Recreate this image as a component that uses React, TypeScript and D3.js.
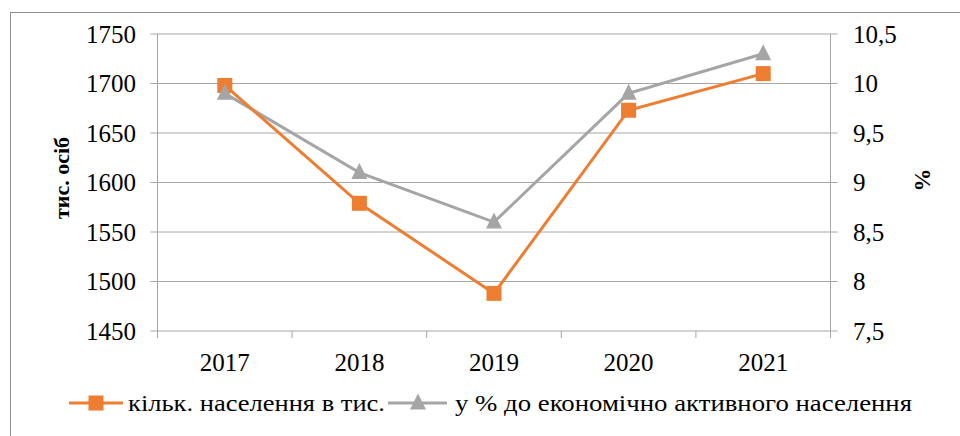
import * as d3 from "d3";

const years = ["2017", "2018", "2019", "2020", "2021"];
const populationThousands = [1698, 1579, 1488, 1673, 1710];
const percentOfActive = [9.9, 9.1, 8.6, 9.9, 10.3];
const leftTicks = [1450, 1500, 1550, 1600, 1650, 1700, 1750];
const rightTicks = [7.5, 8, 8.5, 9, 9.5, 10, 10.5];

const width = 960;
const height = 436;
const plotLeft = 157.5;
const plotRight = 830.5;
const plotTop = 34;
const plotBottom = 331;

const orange = "#ED7D31";
const gray = "#A5A5A5";
const gridColor = "#A6A6A6";
const font = "'Liberation Serif', 'Times New Roman', serif";

const App = () => {
  // horizontal scale: one band per year, points sit in the middle
  const xScale = d3.scaleBand().domain(years).range([plotLeft, plotRight]).padding(0);
  const cx = (y: string) => (xScale(y) as number) + xScale.bandwidth() / 2;

  const yLeft = d3.scaleLinear().domain([1450, 1750]).range([plotBottom, plotTop]);
  const yRight = d3.scaleLinear().domain([7.5, 10.5]).range([plotBottom, plotTop]);

  const popLine = d3
    .line<number>()
    .x((_, i) => cx(years[i]))
    .y((d) => yLeft(d));
  const pctLine = d3
    .line<number>()
    .x((_, i) => cx(years[i]))
    .y((d) => yRight(d));

  const fmtRight = (v: number) => String(v).replace(".", ",");
  const tri = (x: number, y: number, s: number) =>
    `M${x},${y - s * 0.6}L${x + s / 2},${y + s * 0.4}L${x - s / 2},${y + s * 0.4}Z`;

  const boundaries = [...years.map((y) => xScale(y) as number), plotRight];
  const txt = { fontFamily: font };

  return (
    <svg
      width={width}
      height={height}
      style={{ position: "fixed", left: 0, top: 0, background: "#fff", fontFamily: font }}
    >
      {/* outer frame */}
      <rect x={10.5} y={12.5} width={980} height={460} fill="none" stroke="#8C8C8C" strokeWidth={1} />

      {/* grid lines + left ticks */}
      {leftTicks.map((t) => (
        <g key={t}>
          <line x1={plotLeft - 7} x2={plotRight + 7} y1={yLeft(t)} y2={yLeft(t)} stroke={gridColor} strokeWidth={1} />
          <text x={136} y={yLeft(t)} dy="0.34em" textAnchor="end" fontSize={25} fill="#000" style={txt}>
            {t}
          </text>
        </g>
      ))}
      {rightTicks.map((t) => (
        <text key={t} x={853} y={yRight(t)} dy="0.34em" fontSize={25} fill="#000" style={txt}>
          {fmtRight(t)}
        </text>
      ))}

      {/* axes */}
      <line x1={plotLeft} x2={plotLeft} y1={plotTop} y2={plotBottom + 7} stroke={gridColor} />
      <line x1={plotRight} x2={plotRight} y1={plotTop} y2={plotBottom + 7} stroke={gridColor} />
      {boundaries.map((b, i) => (
        <line key={i} x1={b} x2={b} y1={plotBottom} y2={plotBottom + 7} stroke={gridColor} />
      ))}
      {years.map((y) => (
        <text key={y} x={cx(y)} y={371} textAnchor="middle" fontSize={25} fill="#000" style={txt}>
          {y}
        </text>
      ))}

      {/* axis titles */}
      <text
        transform={`translate(69,178) rotate(-90)`}
        textAnchor="middle"
        fontSize={22}
        fontWeight="bold"
        fill="#000"
        style={txt}
      >
        тис. осіб
      </text>
      <text
        transform={`translate(930,180) rotate(-90)`}
        textAnchor="middle"
        fontSize={23}
        fontWeight="bold"
        fill="#000"
        style={txt}
      >
        %
      </text>

      {/* series */}
      <path d={pctLine(percentOfActive) as string} fill="none" stroke={gray} strokeWidth={3} />
      <path d={popLine(populationThousands) as string} fill="none" stroke={orange} strokeWidth={3} />
      {populationThousands.map((v, i) => (
        <rect key={i} x={cx(years[i]) - 7.5} y={yLeft(v) - 7.5} width={15} height={15} fill={orange} />
      ))}
      {percentOfActive.map((v, i) => (
        <path key={i} d={tri(cx(years[i]), yRight(v), 16)} fill={gray} />
      ))}

      {/* legend */}
      <g>
        <line x1={69} x2={123} y1={403} y2={403} stroke={orange} strokeWidth={3} />
        <rect x={88.5} y={395.5} width={15} height={15} fill={orange} />
        <text
          x={128}
          y={403}
          dy="0.34em"
          fontSize={24}
          fill="#000"
          style={txt}
          textLength={257}
          lengthAdjust="spacingAndGlyphs"
        >
          кільк. населення в тис.
        </text>
        <line x1={388} x2={447} y1={403} y2={403} stroke={gray} strokeWidth={3} />
        <path d={tri(418, 403, 16)} fill={gray} />
        <text
          x={455}
          y={403}
          dy="0.34em"
          fontSize={24}
          fill="#000"
          style={txt}
          textLength={457}
          lengthAdjust="spacingAndGlyphs"
        >
          у % до економічно активного населення
        </text>
      </g>
    </svg>
  );
};

export default App;
